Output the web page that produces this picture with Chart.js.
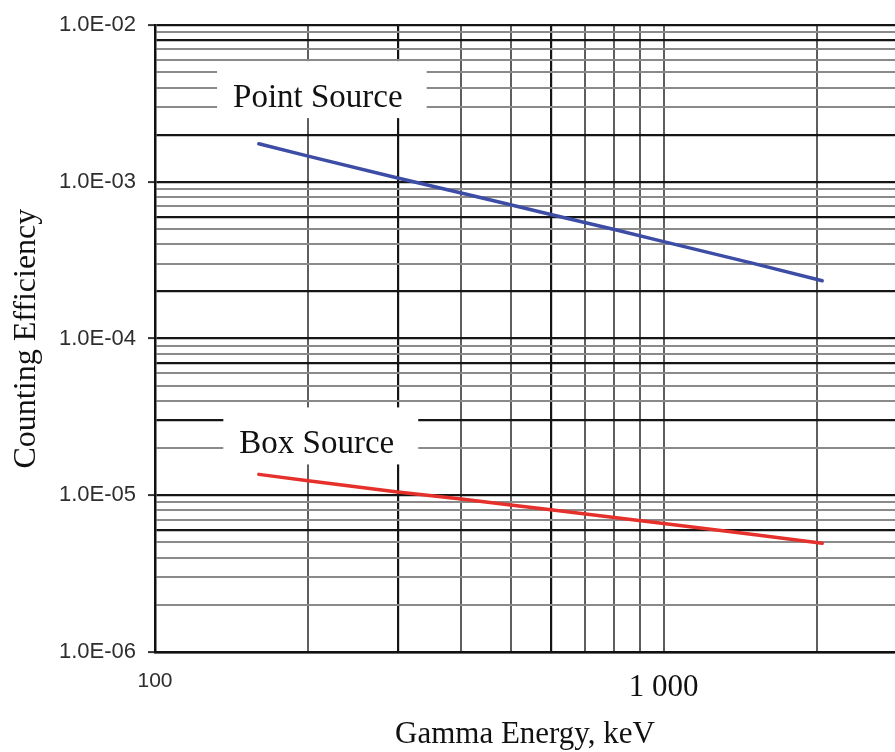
<!DOCTYPE html>
<html>
<head>
<meta charset="utf-8">
<title>Counting Efficiency vs Gamma Energy</title>
<script src="https://cdn.jsdelivr.net/npm/chart.js@4.4.1/dist/chart.umd.min.js"></script>
<style>
  html, body { margin: 0; padding: 0; background: #fff; overflow: hidden; }
  #wrap { position: relative; width: 895px; height: 752px; }
</style>
</head>
<body>
<div id="wrap"><canvas id="effChart"></canvas></div>
<script>
// Values (keV, counts per photon)
const energies = [160, 200, 300, 400, 500, 600, 800, 1000, 1500, 2050];
const pointSource = [1.75e-3, 1.46e-3, 1.06e-3, 8.5e-4, 7.15e-4, 6.2e-4, 4.97e-4, 4.16e-4, 3.02e-4, 2.34e-4];
const boxSource = [1.36e-5, 1.24e-5, 1.05e-5, 9.47e-6, 8.67e-6, 8.09e-6, 7.22e-6, 6.61e-6, 5.62e-6, 4.94e-6];

// Axis ticks
const xGridValues = [100, 200, 300, 400, 500, 600, 700, 800, 900, 1000, 2000];
const xLabelValues = [100, 1000];
const xLabelTexts = ['100', '1 000'];
const yDecades = [1e-6, 1e-5, 1e-4, 1e-3, 1e-2];
const yTickLabels = ['1.0E-06', '1.0E-05', '1.0E-04', '1.0E-03', '1.0E-02'];

// Series labels: [text, energy, efficiency at text baseline]
const seriesLabels = [
  ['Point Source', 209, 3.0e-3],
  ['Box Source', 208, 1.85e-5]
];

// gridlines that print heavier in the original
const darkX = [300, 600];
const darkY = [8e-3, 2e-3, 6e-4, 2e-4, 7e-5, 3e-5, 6e-6];

const near = (a, b) => Math.abs(a - b) / b < 1e-6;
const inList = (v, list) => list.some(d => near(v, d));

// all minor y gridlines: 1..9 within each decade
const yGridValues = [];
yDecades.forEach((d, i) => {
  if (i === yDecades.length - 1) { yGridValues.push(d); return; }
  for (let m = 1; m <= 9; m++) yGridValues.push(m * d);
});

const serif = '"Liberation Serif", "Times New Roman", serif';
const sans = '"Liberation Sans", Arial, sans-serif';

// white-boxed series names drawn over the grid, under the lines
const labelBoxes = {
  id: 'labelBoxes',
  beforeDatasetsDraw(chart) {
    const { ctx, scales: { x, y } } = chart;
    ctx.save();
    ctx.font = '33px ' + serif;
    ctx.textBaseline = 'alphabetic';
    ctx.textAlign = 'left';
    seriesLabels.forEach(([text, ex, ey]) => {
      const w = ctx.measureText(text).width;
      const cx = x.getPixelForValue(ex);
      const by = y.getPixelForValue(ey);
      const left = cx - w / 2;
      ctx.fillStyle = '#fff';
      ctx.fillRect(left - 16, by - 46, w + 40, 57);
      ctx.fillStyle = '#111';
      ctx.fillText(text, left, by);
    });
    ctx.restore();
  }
};

const ctx = document.getElementById('effChart').getContext('2d');
new Chart(ctx, {
  type: 'line',
  data: {
    datasets: [{
      label: 'Point Source',
      data: energies.map((e, i) => ({ x: e, y: pointSource[i] })),
      borderColor: '#3d4da6',
      borderWidth: 3.5,
      borderCapStyle: 'round',
      pointRadius: 0,
      tension: 0
    }, {
      label: 'Box Source',
      data: energies.map((e, i) => ({ x: e, y: boxSource[i] })),
      borderColor: '#e5302b',
      borderWidth: 3.5,
      borderCapStyle: 'round',
      pointRadius: 0,
      tension: 0
    }]
  },
  options: {
    responsive: true,
    maintainAspectRatio: false,
    animation: false,
    devicePixelRatio: 1,
    layout: { padding: { top: 23, right: 0, bottom: 0, left: 0 } },
    plugins: {
      legend: { display: false },
      tooltip: { enabled: false }
    },
    scales: {
      x: {
        type: 'logarithmic',
        min: 100,
        max: 2850,
        afterBuildTicks: (scale) => { scale.ticks = xGridValues.map(v => ({ value: v })); },
        afterFit: (scale) => { scale.height = 100; },
        border: { display: true, color: '#111', width: 2.5 },
        grid: {
          drawTicks: false,
          color: (c) => inList(c.tick.value, darkX) ? '#151515' : '#5e5e5e',
          lineWidth: (c) => inList(c.tick.value, darkX) ? 2.2 : 2
        },
        ticks: {
          autoSkip: false,
          maxRotation: 0,
          minRotation: 0,
          padding: 17,
          color: (c) => c.tick && near(c.tick.value, 1000) ? '#111' : '#2e2e2e',
          font: (c) => c.tick && near(c.tick.value, 1000)
            ? { family: serif, size: 31 }
            : { family: sans, size: 21 },
          callback: (value) => {
            const i = xLabelValues.findIndex(v => near(value, v));
            return i >= 0 ? xLabelTexts[i] : '';
          }
        },
        title: {
          display: true,
          text: 'Gamma Energy, keV',
          color: '#111',
          font: { family: serif, size: 31, lineHeight: 1 },
          padding: { top: 0, bottom: 2 }
        }
      },
      y: {
        type: 'logarithmic',
        min: 1e-6,
        max: 1e-2,
        afterBuildTicks: (scale) => { scale.ticks = yGridValues.map(v => ({ value: v })); },
        afterFit: (scale) => { scale.width = 155; },
        border: { display: true, color: '#111', width: 2.5 },
        grid: {
          drawTicks: true,
          tickLength: 7,
          tickWidth: 2,
          tickColor: (c) => inList(c.tick.value, yDecades) ? '#333' : 'rgba(0,0,0,0)',
          color: (c) => (inList(c.tick.value, yDecades) || inList(c.tick.value, darkY)) ? '#151515' : '#8a8a8a',
          lineWidth: (c) => (inList(c.tick.value, yDecades) || inList(c.tick.value, darkY)) ? 2.2 : 2
        },
        ticks: {
          autoSkip: false,
          padding: 12,
          color: '#2e2e2e',
          font: { family: sans, size: 22 },
          callback: (value) => {
            const i = yDecades.findIndex(v => near(value, v));
            return i >= 0 ? yTickLabels[i] : '';
          }
        },
        title: {
          display: true,
          text: 'Counting Efficiency',
          color: '#111',
          font: { family: serif, size: 32, lineHeight: 1 },
          padding: { top: 11, bottom: 0 }
        }
      }
    }
  },
  plugins: [labelBoxes]
});
</script>
</body>
</html>
